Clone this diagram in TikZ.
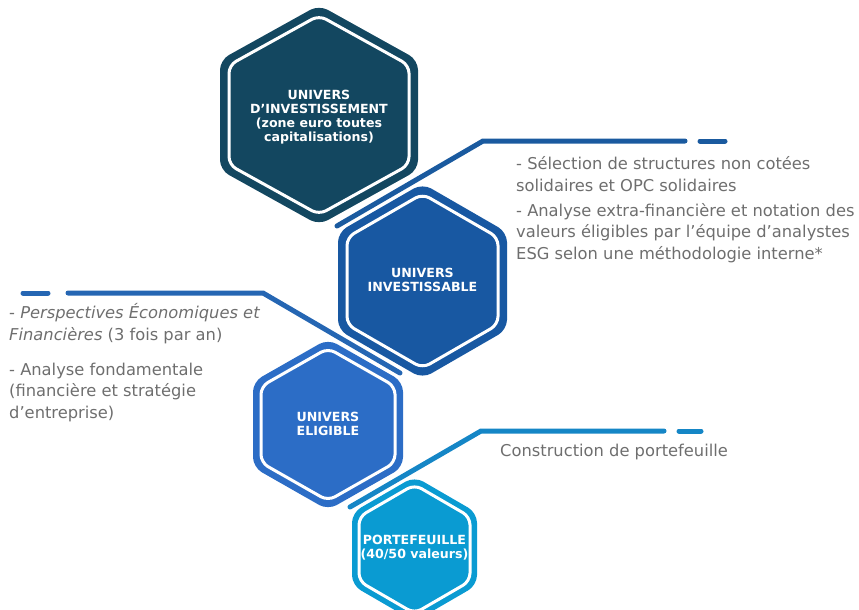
\documentclass[tikz,border=0pt]{standalone}
\usepackage{fontspec}
\setmainfont{DejaVu Sans}

\definecolor{bleunuit}{HTML}{134760}
\definecolor{bleuroi}{HTML}{1858A2}
\definecolor{bleumoyen}{HTML}{2C6DC6}
\definecolor{bleuciel}{HTML}{0A9BD2}
\definecolor{traitun}{HTML}{1A5A9F}
\definecolor{traitdeux}{HTML}{2566B3}
\definecolor{traittrois}{HTML}{1586C6}
\definecolor{grisTexte}{HTML}{6E6E6E}

% cx, cy, largeur, hauteur, retrait, couleur
\newcommand{\hexagone}[6]{%
	\fill[#6, rounded corners=10pt] (#1,#2-#4/2) -- (#1+#3/2,#2-#4/4) -- (#1+#3/2,#2+#4/4) -- (#1,#2+#4/2) -- (#1-#3/2,#2+#4/4) -- (#1-#3/2,#2-#4/4) -- cycle;
	\draw[white, line width=3pt, rounded corners=8pt] (#1,#2-#4/2+1.155*#5) -- (#1+#3/2-#5,#2-#4/4+0.577*#5) -- (#1+#3/2-#5,#2+#4/4-0.577*#5) -- (#1,#2+#4/2-1.155*#5) -- (#1-#3/2+#5,#2+#4/4-0.577*#5) -- (#1-#3/2+#5,#2-#4/4+0.577*#5) -- cycle;
}

\tikzset{
	hexlabel/.style={text=white, font=\fontsize{12.6}{14}\selectfont\bfseries, align=center, inner sep=0pt},
	note/.style={text=grisTexte, font=\fontsize{16.3}{21.5}\selectfont, align=left, anchor=west, inner sep=0pt},
	trait/.style={line width=5pt, line cap=round}
}

\begin{document}
\begin{tikzpicture}[x=1pt, y=-1pt]
			\clip (0,0) rectangle (859,610);
			\hexagone{319}{115}{198}{220}{9}{bleunuit}
			\hexagone{422.5}{281}{169}{195}{9}{bleuroi}
			\hexagone{328}{424.5}{150}{171}{8}{bleumoyen}
			\hexagone{414.5}{549}{125}{145}{7}{bleuciel}
			\node[hexlabel] (investissement) at (319,117) {UNIVERS\\D’INVESTISSEMENT\\(zone euro toutes\\capitalisations)};
			\node[hexlabel] (investissable) at (422.5,280) {UNIVERS\\INVESTISSABLE};
			\node[hexlabel] (eligible) at (328,424) {UNIVERS\\ELIGIBLE};
			\node[hexlabel] (portefeuille) at (414.5,548) {PORTEFEUILLE\\(40/50 valeurs)};
			\coordinate (t1a) at (337,226);
			\coordinate (t1b) at (483,141);
			\coordinate (t1c) at (685,141);
			\coordinate (t1d) at (700,141);
			\coordinate (t1e) at (725,141);
			\draw[trait, traitun] (t1a) -- (t1b) -- (t1c);
			\draw[trait, traitun] (t1d) -- (t1e);
			\coordinate (t2a) at (400,373);
			\coordinate (t2b) at (263,293);
			\coordinate (t2c) at (68,293);
			\coordinate (t2d) at (48,293);
			\coordinate (t2e) at (23,293);
			\draw[trait, traitdeux] (t2a) -- (t2b) -- (t2c);
			\draw[trait, traitdeux] (t2d) -- (t2e);
			\coordinate (t3a) at (350,507);
			\coordinate (t3b) at (481,431);
			\coordinate (t3c) at (664,431);
			\coordinate (t3d) at (679,431);
			\coordinate (t3e) at (701,431);
			\draw[trait, traittrois] (t3a) -- (t3b) -- (t3c);
			\draw[trait, traittrois] (t3d) -- (t3e);
			\node[note] (selection) at (516,174) {- Sélection de structures non cotées\\solidaires et OPC solidaires};
			\node[note] (extrafi) at (516,233) {- Analyse extra-financière et notation des\\valeurs éligibles par l’équipe d’analystes\\ESG selon une méthodologie interne*};
			\node[note] (perspectives) at (9,323.5) {- \textit{Perspectives Économiques et}\\\textit{Financières} (3 fois par an)};
			\node[note] (fondamentale) at (9,392) {- Analyse fondamentale\\(financière et stratégie\\d’entreprise)};
			\node[note] (construction) at (500,452) {Construction de portefeuille};
\end{tikzpicture}
\end{document}
